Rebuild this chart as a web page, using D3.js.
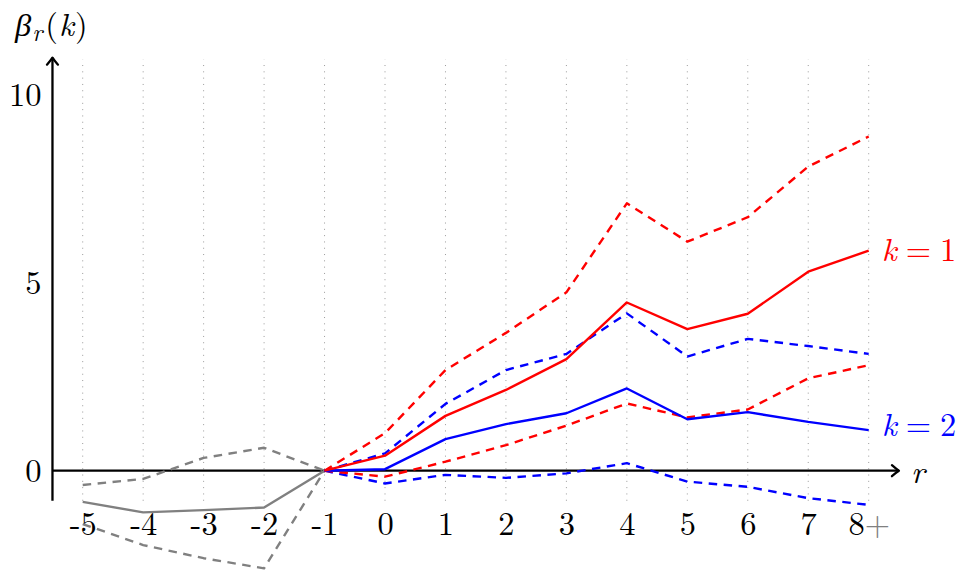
<!DOCTYPE html>
<html>
<head>
<meta charset="utf-8">
<script src="https://cdn.jsdelivr.net/npm/d3@7/dist/d3.min.js"></script>
<style>
  body { margin: 0; background: #fff; }
  svg { display: block; }
</style>
</head>
<body>
<svg id="chart" width="958" height="571"></svg>
<script>
// ---- data ----
const categories = ["-5","-4","-3","-2","-1","0","1","2","3","4","5","6","7","8+"];
const preCats = ["-5","-4","-3","-2","-1"];
const postCats = ["-1","0","1","2","3","4","5","6","7","8+"];

const preMid   = [-0.83, -1.11, -1.05, -0.98, 0];
const preUpper = [-0.38, -0.22, 0.34, 0.61, 0];
const preLower = [-1.42, -1.98, -2.33, -2.60, 0];

const k1Mid   = [0, 0.40, 1.46, 2.15, 2.97, 4.48, 3.77, 4.18, 5.30, 5.86];
const k1Upper = [0, 1.00, 2.68, 3.67, 4.75, 7.12, 6.10, 6.75, 8.10, 8.90];
const k1Lower = [0, -0.16, 0.24, 0.68, 1.20, 1.79, 1.42, 1.63, 2.46, 2.81];

const k2Mid   = [0, 0.04, 0.84, 1.24, 1.53, 2.19, 1.37, 1.56, 1.30, 1.08];
const k2Upper = [0, 0.46, 1.78, 2.68, 3.11, 4.19, 3.04, 3.51, 3.32, 3.11];
const k2Lower = [0, -0.34, -0.11, -0.19, -0.07, 0.20, -0.29, -0.43, -0.73, -0.91];

const yTicks = [0, 5, 10];

// ---- scales ----
const svg = d3.select("#chart");
const x = d3.scalePoint().domain(categories).range([82.7, 868.7]);
const y = d3.scaleLinear().domain([0, 10]).range([470.7, 95.2]);
const half = x.step() / 2;
const xLeft = x(categories[0]) - half;          // y-axis position
const xRight = x(categories[categories.length - 1]) + half;
const yBottom = y(-0.8), yTop = y(11);

const FONT = "'Latin Modern Roman', 'Liberation Serif', serif";
const FS = 32.5;

// ---- grid ----
svg.append("g").selectAll("line").data(categories).join("line")
  .attr("x1", d => x(d)).attr("x2", d => x(d))
  .attr("y1", yBottom).attr("y2", y(10.95))
  .attr("stroke", "#9a9a9a").attr("stroke-width", 1)
  .attr("stroke-dasharray", "1,5.3");

// ---- axes ----
const ax = svg.append("g").attr("stroke", "#000").attr("stroke-width", 2.3).attr("fill", "none");
ax.append("line").attr("x1", xLeft).attr("x2", xLeft).attr("y1", yBottom).attr("y2", yTop);
ax.append("line").attr("x1", xLeft).attr("x2", xRight).attr("y1", y(0)).attr("y2", y(0));
ax.append("path").attr("d", `M${xLeft-5.5},${yTop+7} Q${xLeft-1.5},${yTop+2.5} ${xLeft},${yTop} Q${xLeft+1.5},${yTop+2.5} ${xLeft+5.5},${yTop+7}`)
  .attr("stroke-linecap", "round").attr("stroke-linejoin", "round");
ax.append("path").attr("d", `M${xRight-7},${y(0)-5.5} Q${xRight-2.5},${y(0)-1.5} ${xRight},${y(0)} Q${xRight-2.5},${y(0)+1.5} ${xRight-7},${y(0)+5.5}`)
  .attr("stroke-linecap", "round").attr("stroke-linejoin", "round");

// x tick labels
const gx = svg.append("g").attr("transform", `translate(0,${yBottom})`)
  .call(d3.axisBottom(x).tickSize(0).tickPadding(11));
gx.select(".domain").remove();
gx.selectAll("text").style("font-family", FONT).style("font-size", FS + "px").attr("fill", "#000")
  .attr("dy", "0.71em")
  .each(function(d) {
    if (d === "8+") {
      const t = d3.select(this).text(null);
      t.append("tspan").text("8");
      t.append("tspan").attr("fill", "#808080").text("+");
    }
  });

// y tick labels
const gy = svg.append("g").attr("transform", `translate(${xLeft},0)`)
  .call(d3.axisLeft(y).tickValues(yTicks).tickSize(0).tickPadding(11).tickFormat(d3.format("d")));
gy.select(".domain").remove();
gy.selectAll("text").style("font-family", FONT).style("font-size", FS + "px").attr("fill", "#000");

// ---- lines ----
const line = cats => d3.line().x((d, i) => x(cats[i])).y(d => y(d));
function draw(values, cats, color, dashed) {
  svg.append("path").datum(values)
    .attr("d", line(cats))
    .attr("fill", "none")
    .attr("stroke", color)
    .attr("stroke-width", 2.4)
    .attr("stroke-linejoin", "round")
    .attr("stroke-dasharray", dashed ? "8.5,6.5" : null);
}
draw(preUpper, preCats, "#808080", true);
draw(preLower, preCats, "#808080", true);
draw(preMid, preCats, "#808080", false);
draw(k2Upper, postCats, "#0000ff", true);
draw(k2Lower, postCats, "#0000ff", true);
draw(k1Upper, postCats, "#ff0000", true);
draw(k1Lower, postCats, "#ff0000", true);
draw(k2Mid, postCats, "#0000ff", false);
draw(k1Mid, postCats, "#ff0000", false);

// ---- labels ----
function kLabel(val, num, color) {
  const t = svg.append("text")
    .attr("x", x(categories[categories.length - 1]) + 13)
    .attr("y", y(val) + 10)
    .style("font-family", FONT).style("font-size", FS + "px").attr("fill", color);
  t.append("tspan").style("font-style", "italic").text("k");
  t.append("tspan").attr("dx", 9).text("=");
  t.append("tspan").attr("dx", 9).text(num);
  return t;
}
kLabel(k1Mid[k1Mid.length - 1], "1", "#ff0000");
const k2Text = kLabel(k2Mid[k2Mid.length - 1], "2", "#0000ff");

// axis labels
const yl = svg.append("text").attr("x", 15).attr("y", 36)
  .style("font-family", FONT).style("font-size", FS + "px").attr("fill", "#000");
yl.append("tspan").style("font-style", "italic").text("β");
yl.append("tspan").style("font-style", "italic").style("font-size", "24px").attr("dy", 5).attr("dx", 1).text("r");
yl.append("tspan").attr("dy", -5).attr("dx", 3).text("(");
yl.append("tspan").style("font-style", "italic").attr("dx", 1).text("k");
yl.append("tspan").attr("dx", 1).text(")");

const rText = svg.append("text").attr("x", xRight + 12).attr("y", y(0) + 8)
  .style("font-family", FONT).style("font-size", FS + "px").style("font-style", "italic").attr("fill", "#000").text("r");

// nudge apart the "k = 2" and "r" labels if their boxes touch
const b1 = k2Text.node().getBBox(), b2 = rText.node().getBBox();
const overlap = (b1.y + b1.height) - b2.y;
if (overlap > -1) {
  const s = Math.min(overlap + 1, 8) / 2;
  k2Text.attr("y", +k2Text.attr("y") - s);
  rText.attr("y", +rText.attr("y") + s);
}
</script>
</body>
</html>
